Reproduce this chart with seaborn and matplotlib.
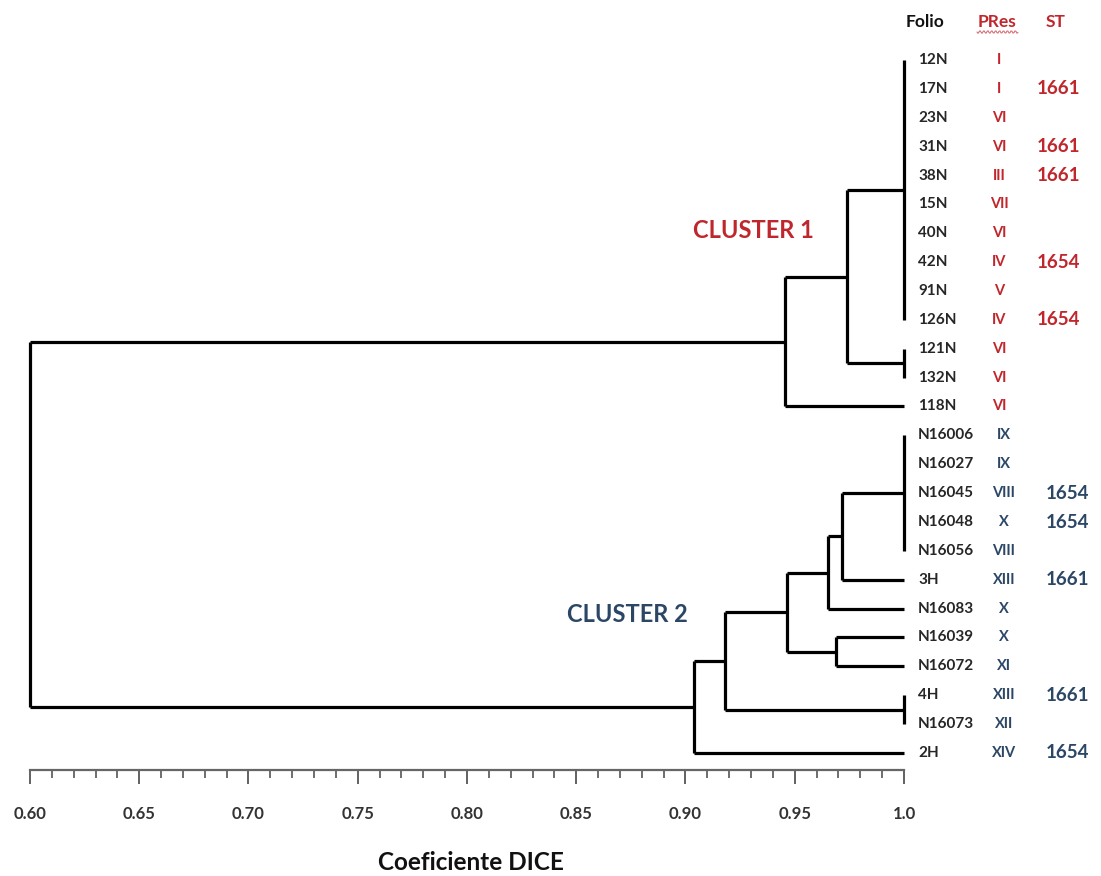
import numpy as np
import pandas as pd
import matplotlib.pyplot as plt
import seaborn as sns
from matplotlib.ticker import MultipleLocator
from matplotlib.lines import Line2D

# Leaves, top to bottom
folio = ["12N", "17N", "23N", "31N", "38N", "15N", "40N", "42N", "91N", "126N",
         "121N", "132N", "118N",
         "N16006", "N16027", "N16045", "N16048", "N16056", "3H", "N16083",
         "N16039", "N16072", "4H", "N16073", "2H"]
pres = ["I", "I", "VI", "VI", "III", "VII", "VI", "IV", "V", "IV",
        "VI", "VI", "VI",
        "IX", "IX", "VIII", "X", "VIII", "XIII", "X",
        "X", "XI", "XIII", "XII", "XIV"]
st = ["", "1661", "", "1661", "1661", "", "", "1654", "", "1654",
      "", "", "",
      "", "", "1654", "1654", "", "1661", "",
      "", "", "1661", "", "1654"]
cluster = [1] * 13 + [2] * 12

# Tree joins (DICE similarity at each join)
node_names = ["n1", "n2", "n3", "n4", "n5", "n6", "n7", "n8", "n9", "n10", "n11", "n12", "root"]
node_kids = [
    ["12N", "17N", "23N", "31N", "38N", "15N", "40N", "42N", "91N", "126N"],
    ["121N", "132N"],
    ["n1", "n2"],
    ["n3", "118N"],
    ["N16006", "N16027", "N16045", "N16048", "N16056"],
    ["n5", "3H"],
    ["n6", "N16083"],
    ["N16039", "N16072"],
    ["n7", "n8"],
    ["4H", "N16073"],
    ["n9", "n10"],
    ["n11", "2H"],
    ["n4", "n12"],
]
node_sim = [1.00, 1.00, 0.974, 0.9455, 1.00, 0.9716, 0.965, 0.969, 0.9465, 1.00, 0.918, 0.904, 0.60]

tick_vals = [0.60, 0.65, 0.70, 0.75, 0.80, 0.85, 0.90, 0.95, 1.00]
tick_text = ["0.60", "0.65", "0.70", "0.75", "0.80", "0.85", "0.90", "0.95", "1.0"]

red = "#c0272d"
blue = "#2c4766"

sns.set_style("white")
plt.rcParams['font.family'] = ['Lato', 'DejaVu Sans']

# positions of leaves and joins
pos = {}
for i, name in enumerate(folio):
    pos[name] = (1.0, float(i))
segs = []
for name, kids, s in zip(node_names, node_kids, node_sim):
    ys = [pos[k][1] for k in kids]
    for k in kids:
        kx, ky = pos[k]
        if kx != s:
            segs.append([(s, ky), (kx, ky)])
    segs.append([(s, min(ys)), (s, max(ys))])
    pos[name] = (s, (min(ys) + max(ys)) / 2)

rows = []
for j, seg in enumerate(segs):
    for x, y in seg:
        rows.append({"seg": j, "x": x, "y": y})
seg_df = pd.DataFrame(rows)

W, H = 1101, 876
fig = plt.figure(figsize=(W / 100, H / 100), dpi=100)
ax = fig.add_axes([30 / W, 1 - 770 / H, 874 / W, 730 / H])

sns.lineplot(data=seg_df, x="x", y="y", units="seg", estimator=None, sort=False,
             color="black", lw=2.3, ax=ax, legend=False)
for ln in ax.lines:
    ln.set_clip_on(False)
    ln.set_solid_capstyle("butt")

step = (753 - 60) / 24.0
ax.set_xlim(0.60, 1.00)
ax.set_ylim((770 - 60) / step, -(60 - 40) / step)

for s in ["top", "right", "left"]:
    ax.spines[s].set_visible(False)
ax.spines["bottom"].set_color("#666666")
ax.spines["bottom"].set_linewidth(1.6)
ax.set_yticks([])
ax.set_ylabel("")
ax.set_xticks(tick_vals)
ax.set_xticklabels(tick_text, fontsize=12, fontweight="bold", color="#333333")
ax.xaxis.set_minor_locator(MultipleLocator(0.01))
ax.tick_params(axis="x", which="major", direction="out", length=10, width=1.3,
               color="#555555", pad=16, bottom=True)
ax.tick_params(axis="x", which="minor", direction="out", length=5.5, width=1.2,
               color="#555555", bottom=True)
ax.set_xlabel("Coeficiente DICE", fontsize=17.5, fontweight="bold", color="#111111", va="center")
ax.xaxis.set_label_coords(0.505, -(862 - 770) / 730)

# leaf labels and table columns
for i in range(len(folio)):
    c = red if cluster[i] == 1 else blue
    dp = 95 if cluster[i] == 1 else 100
    ds = 154 if cluster[i] == 1 else 163
    ax.annotate(folio[i], xy=(1.0, i), xytext=(14, 0), textcoords="offset pixels",
                ha="left", va="center", fontsize=11, fontweight="bold", color="#262626",
                annotation_clip=False)
    ax.annotate(pres[i], xy=(1.0, i), xytext=(dp, 0), textcoords="offset pixels",
                ha="center", va="center", fontsize=10.5, fontweight="bold", color=c,
                annotation_clip=False)
    if st[i]:
        ax.annotate(st[i], xy=(1.0, i), xytext=(ds, 0), textcoords="offset pixels",
                    ha="center", va="center", fontsize=13.5, fontweight="bold", color=c,
                    annotation_clip=False)

# column headers
ax.annotate("Folio", xy=(1.0, 0), xytext=(21, 38), textcoords="offset pixels",
            ha="center", va="center", fontsize=12.5, fontweight="bold", color="#111111",
            annotation_clip=False)
ax.annotate("PRes", xy=(1.0, 0), xytext=(93, 38), textcoords="offset pixels",
            ha="center", va="center", fontsize=12.5, fontweight="bold", color=red,
            annotation_clip=False)
ax.annotate("ST", xy=(1.0, 0), xytext=(152, 38), textcoords="offset pixels",
            ha="center", va="center", fontsize=12.5, fontweight="bold", color=red,
            annotation_clip=False)
# spell-check squiggle under PRes
wx = np.linspace(977, 1018, 42)
wy = 32 + 1.3 * np.sin((wx - 977) * 1.6)
fig.add_artist(Line2D(wx / W, 1 - wy / H, transform=fig.transFigure, color="#d9707a", lw=0.8))

# cluster names
ax.annotate("CLUSTER 1", xy=(0.60, 0), xycoords=("data", "data"),
            xytext=(753 - 30, -(230 - 60)), textcoords="offset pixels",
            ha="center", va="center", fontsize=17, fontweight="bold", color=red,
            annotation_clip=False)
ax.annotate("CLUSTER 2", xy=(0.60, 0), xycoords=("data", "data"),
            xytext=(627 - 30, -(615 - 60)), textcoords="offset pixels",
            ha="center", va="center", fontsize=17, fontweight="bold", color=blue,
            annotation_clip=False)

fig.savefig("out.png", dpi=100, facecolor="white")
